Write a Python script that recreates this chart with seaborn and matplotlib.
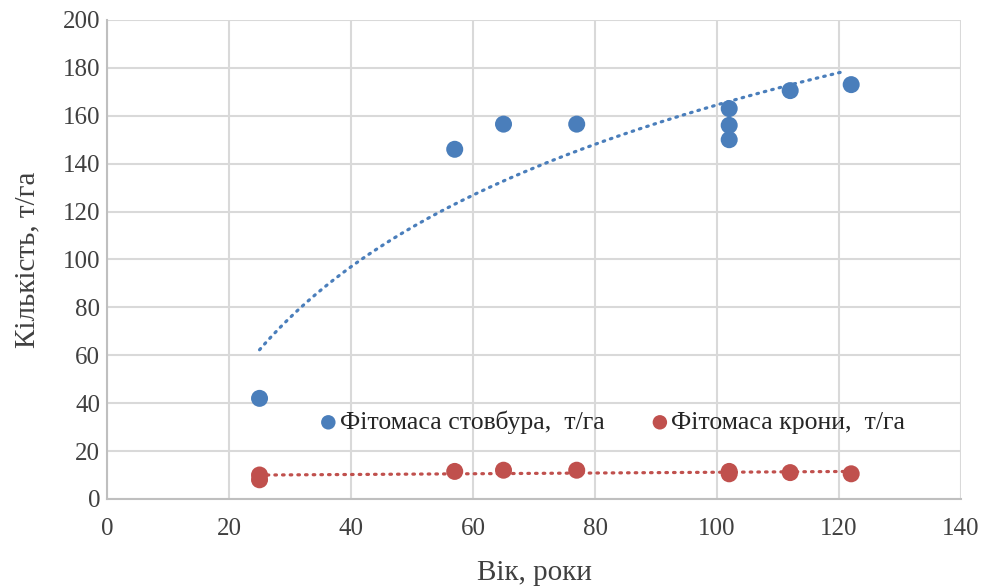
import numpy as np
import pandas as pd
import matplotlib
matplotlib.use("Agg")
import matplotlib.pyplot as plt
import seaborn as sns

# data
age = [25, 57, 65, 77, 102, 102, 102, 112, 122]
stem = [42, 146, 156.5, 156.5, 163, 156, 150, 170.5, 173]
age_crown = [25, 25, 57, 65, 77, 102, 102, 112, 122]
crown = [10, 8, 11.5, 12, 12, 11.5, 10.5, 11, 10.5]

blue = "#4a7ebb"
red = "#c0504d"

sns.set_theme(style="whitegrid")
plt.rcParams["font.family"] = ["Liberation Serif", "DejaVu Serif"]

fig = plt.figure(figsize=(9.82, 5.87), dpi=100)
ax = fig.add_axes([0.109, 0.150, 0.8696, 0.816])

df_s = pd.DataFrame({"x": age, "y": stem})
df_c = pd.DataFrame({"x": age_crown, "y": crown})

sns.scatterplot(data=df_s, x="x", y="y", color=blue, s=150, edgecolor="none",
                label="Фітомаса стовбура,  т/га", ax=ax, zorder=3)
sns.scatterplot(data=df_c, x="x", y="y", color=red, s=150, edgecolor="none",
                label="Фітомаса крони,  т/га", ax=ax, zorder=3)

# trend lines (log fit for stem, linear for crown)
k, b = np.polyfit(np.log(age), stem, 1)
xs = np.linspace(25, 121, 200)
ax.plot(xs, k * np.log(xs) + b, color=blue, lw=2.3, ls=(0, (0.5, 1.9)),
        dash_capstyle="round", zorder=2)
k2, b2 = np.polyfit(age_crown, crown, 1)
xs2 = np.linspace(25, 122, 200)
ax.plot(xs2, k2 * xs2 + b2, color=red, lw=2.3, ls=(0, (0.5, 1.9)),
        dash_capstyle="round", zorder=2)

ax.set_xlim(0, 140)
ax.set_ylim(0, 200)
ax.set_xticks(range(0, 141, 20))
ax.set_yticks(range(0, 201, 20))
ax.tick_params(labelsize=18, colors="#404040", length=0, pad=5)
ax.tick_params(axis="x", pad=14)
ax.set_xlabel("Вік, роки", fontsize=21, color="#404040", labelpad=14)
ax.set_ylabel("Кількість, т/га", fontsize=21, color="#404040", labelpad=16)
ax.grid(True, color="#d9d9d9", lw=1.5)
for side in ["top", "right"]:
    ax.spines[side].set_visible(False)
for side in ["left", "bottom"]:
    ax.spines[side].set_color("#bfbfbf")
    ax.spines[side].set_linewidth(1.5)

ax.legend(loc="center", bbox_to_anchor=(0.582, 0.16), ncol=2, frameon=False,
          fontsize=18.5, handletextpad=-0.55, columnspacing=1.15, markerscale=0.85)

fig.savefig("out.png", dpi=100)
